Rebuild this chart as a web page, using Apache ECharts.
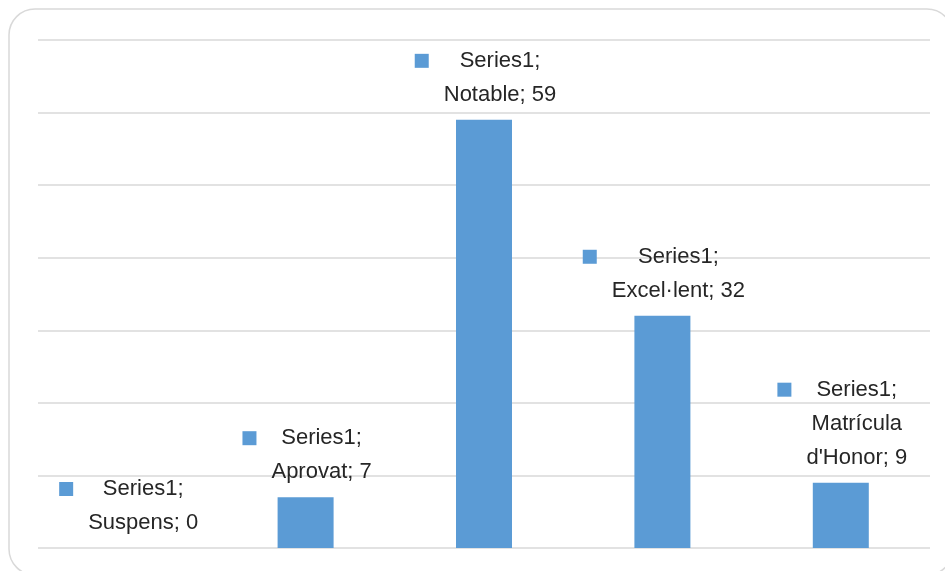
<!DOCTYPE html>
<html>
<head>
<meta charset="utf-8">
<script src="https://cdn.jsdelivr.net/npm/echarts@6/dist/echarts.min.js"></script>
<style>
html,body{margin:0;padding:0;background:#fff;}
#chart{width:945px;height:571px;}
</style>
</head>
<body>
<div id="chart"></div>
<script>
const seriesName = 'Series1';
const categories = ['Suspens', 'Aprovat', 'Notable', 'Excel·lent', "Matrícula d'Honor"];
const values = [0, 7, 59, 32, 9];
const yMin = 0, yMax = 70, yInterval = 10;

const FONT_SIZE = 22;
const FONT_FAMILY = '"Liberation Sans", Arial, sans-serif';
const BAR_COLOR = '#5b9bd5';
const TEXT_COLOR = '#262626';

const ctx = document.createElement('canvas').getContext('2d');
ctx.font = FONT_SIZE + 'px ' + FONT_FAMILY;
function w(t){ return ctx.measureText(t).width; }

function splitName(name){
  return name.length > 12 ? name.split(' ') : [name];
}

const chart = echarts.init(document.getElementById('chart'), null, {renderer:'canvas'});

const data = values.map((v, i) => {
  const nameLines = splitName(categories[i]);
  nameLines[nameLines.length - 1] += '; ' + v;
  const first = seriesName + ';';
  const lines = [first].concat(nameLines);
  const maxW = Math.max.apply(null, lines.map(w));
  const g = (maxW - w(first)) / 2 + 15;
  const fmt = '{sq| }{gp| }{t|' + first + '}{pd| }\n' + nameLines.map(l => '{t|' + l + '}').join('\n');
  return {
    value: v,
    label: {
      formatter: fmt,
      rich: {
        sq: {width: 14, height: 14, backgroundColor: BAR_COLOR},
        gp: {width: g},
        pd: {width: 14 + g},
        t: {fontSize: FONT_SIZE, fontFamily: FONT_FAMILY, color: TEXT_COLOR, lineHeight: 34}
      }
    }
  };
});

chart.setOption({
  animation: false,
  backgroundColor: '#ffffff',
  graphic: [{
    type: 'rect',
    shape: {x: 9, y: 9, width: 944, height: 566, r: 26},
    style: {fill: 'none', stroke: '#d9d9d9', lineWidth: 1.5},
    silent: true, z: -1
  }],
  grid: {left: 38, right: 15, top: 40, bottom: 23, containLabel: false},
  xAxis: {
    type: 'category',
    data: categories,
    axisLine: {show: false},
    axisTick: {show: false},
    axisLabel: {show: false},
    splitLine: {show: false}
  },
  yAxis: {
    type: 'value',
    min: yMin, max: yMax, interval: yInterval,
    axisLine: {show: false},
    axisTick: {show: false},
    axisLabel: {show: false},
    splitLine: {show: true, lineStyle: {color: '#d9d9d9', width: 1.5}}
  },
  series: [{
    name: seriesName,
    type: 'bar',
    data: data,
    barWidth: 56,
    itemStyle: {color: BAR_COLOR},
    label: {
      show: true,
      position: 'top',
      distance: 8,
      offset: [16, 0],
      align: 'center',
      fontSize: FONT_SIZE,
      fontFamily: FONT_FAMILY,
      color: TEXT_COLOR,
      lineHeight: 34
    }
  }]
});
</script>
</body>
</html>
